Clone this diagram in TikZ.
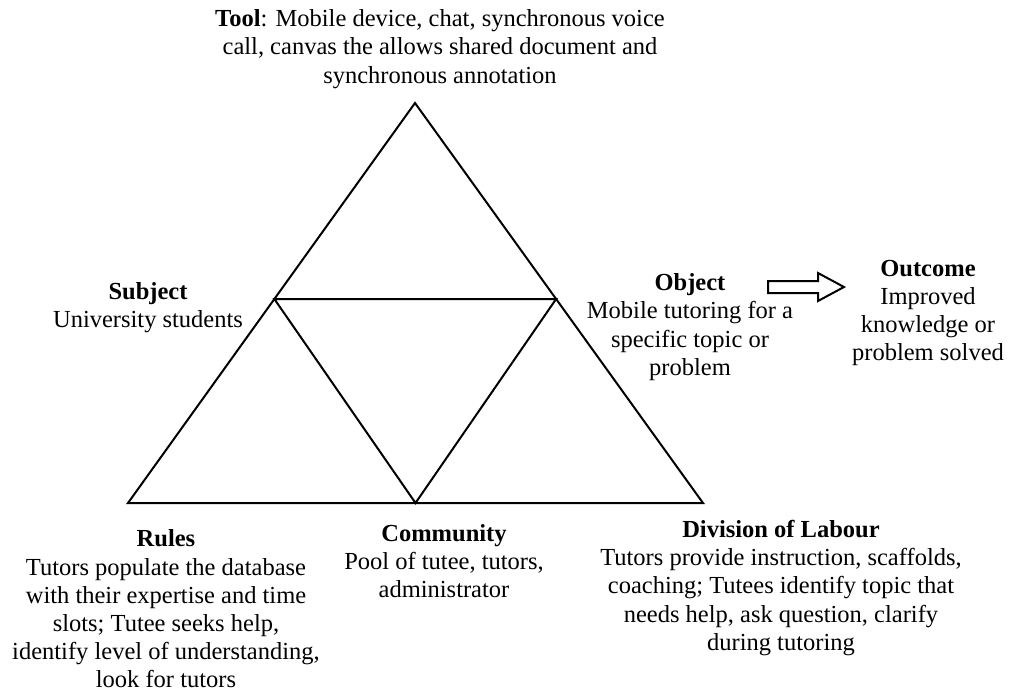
\documentclass[tikz,border=0pt]{standalone}
\usepackage{fontspec}
\setmainfont{Liberation Serif}
\usetikzlibrary{calc}

\tikzset{
	lbl/.style={align=center, inner sep=0pt, font=\fontsize{12.25pt}{14.1pt}\selectfont},
	edge/.style={line width=1pt, line join=miter},
}

\begin{document}
\begin{tikzpicture}[x=0.5pt,y=-0.5pt]
	\useasboundingbox[fill=white] (0,0) rectangle (1009,693);

	% corners of the big triangle and the inner one
	\coordinate (T) at (415,103);
	\coordinate (L) at (128,503);
	\coordinate (R) at (703,503);
	\coordinate (TL) at ($(T)!0.49!(L)$);
	\coordinate (TR) at ($(T)!0.49!(R)$);
	\coordinate (B) at ($(L)!0.5!(R)$);

	\draw[edge] (T) -- (L) -- (R) -- cycle;
	\draw[edge] (TL) -- (TR) -- (B) -- cycle;

	% object -> outcome
	\draw[edge, shift={(768,287)}] (0,-6) -- (50,-6) -- (50,-14) -- (76,0)
		-- (50,14) -- (50,6) -- (0,6) -- cycle;

	\node[lbl] (tool) at (440,49) {\textbf{Tool}: Mobile device, chat, synchronous voice\\
		call, canvas the allows shared document and\\ synchronous annotation};
	\node[lbl] (subject) at (148,308) {\textbf{Subject}\\ University students};
	\node[lbl] (object) at (690,327) {\textbf{Object}\\ Mobile tutoring for a\\
		specific topic or\\ problem};
	\node[lbl] (outcome) at (928,313) {\textbf{Outcome}\\ Improved\\ knowledge or\\
		problem solved};
	\node[lbl] (rules) at (166,609) {\textbf{Rules}\\ Tutors populate the database\\
		with their expertise and time\\ slots; Tutee seeks help,\\
		identify level of understanding,\\ look for tutors};
	\node[lbl] (community) at (444,561) {\textbf{Community}\\ Pool of tutee, tutors,\\
		administrator};
	\node[lbl] (division) at (781,588) {\textbf{Division of Labour}\\
		Tutors provide instruction, scaffolds,\\ coaching; Tutees identify topic that\\
		needs help, ask question, clarify\\ during tutoring};
\end{tikzpicture}
\end{document}
